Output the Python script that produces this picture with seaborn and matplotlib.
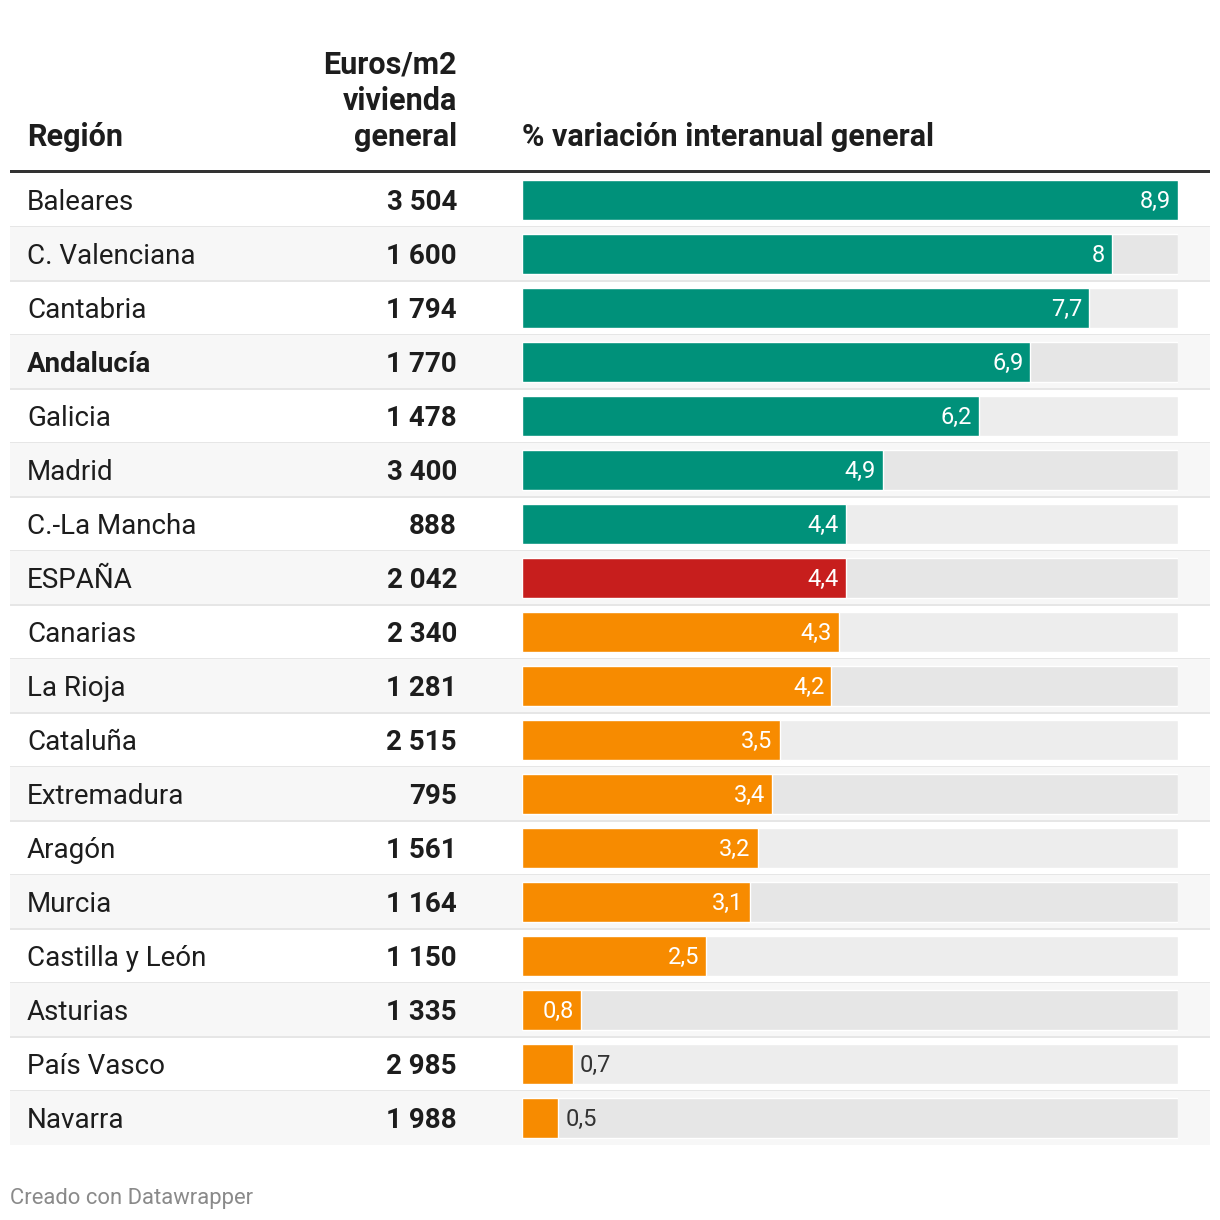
import matplotlib
matplotlib.use("Agg")
import matplotlib.pyplot as plt
import seaborn as sns
import pandas as pd
from matplotlib.patches import Rectangle

# datos de la tabla
regiones = ["Baleares", "C. Valenciana", "Cantabria", "Andalucía", "Galicia", "Madrid",
            "C.-La Mancha", "ESPAÑA", "Canarias", "La Rioja", "Cataluña", "Extremadura",
            "Aragón", "Murcia", "Castilla y León", "Asturias", "País Vasco", "Navarra"]
euros_m2 = [3504, 1600, 1794, 1770, 1478, 3400, 888, 2042, 2340, 1281, 2515, 795,
            1561, 1164, 1150, 1335, 2985, 1988]
variacion = [8.9, 8, 7.7, 6.9, 6.2, 4.9, 4.4, 4.4, 4.3, 4.2, 3.5, 3.4, 3.2, 3.1, 2.5,
             0.8, 0.7, 0.5]
destacada = "Andalucía"
total = "ESPAÑA"

col_region = "Región"
col_precio = ["Euros/m2", "vivienda", "general"]
col_var = "% variación interanual general"
fuente = "Creado con Datawrapper"

sns.set_theme(style="white")
plt.rcParams['font.family'] = ['Roboto', 'DejaVu Sans']

VERDE, ROJO, NARANJA = "#00917a", "#c71e1d", "#f78b00"
TXT = "#1d1d1d"

W = H = 1220
n = len(regiones)
row_top, row_h = 173, 54
bar_x0, bar_w = 521.5, 656.5

fig = plt.figure(figsize=(12.2, 12.2), dpi=100)
fig.patch.set_facecolor("white")

# capa de tabla en pixeles
bg = fig.add_axes([0, 0, 1, 1])
bg.set_xlim(0, W)
bg.set_ylim(H, 0)
bg.axis("off")

for i in range(n):
    y0 = row_top + i * row_h
    if i % 2 == 1:
        bg.add_patch(Rectangle((10, y0), 1200, row_h, color="#f7f7f7", lw=0))
    if i < n - 1:
        bg.add_patch(Rectangle((10, y0 + row_h - 1), 1200, 2, color="#e6e6e6", lw=0))
bg.add_patch(Rectangle((10, 170), 1200, 3, color="#333333", lw=0))

fs = 20
for i, (reg, eur) in enumerate(zip(regiones, euros_m2)):
    yb = row_top + i * row_h + row_h / 2 + 10
    bg.text(27, yb, reg, fontsize=fs, color=TXT, va="baseline", ha="left",
            fontweight="bold" if reg == destacada else "normal")
    bg.text(457, yb, f"{eur:,}".replace(",", " "), fontsize=fs, color=TXT,
            va="baseline", ha="right", fontweight="bold")

# cabecera
fh = 22
bg.text(27, 146, col_region, fontsize=fh, fontweight="bold", color=TXT, va="baseline")
for k, line in enumerate(col_precio):
    bg.text(457, 74 + 36 * k, line, fontsize=fh, fontweight="bold", color=TXT,
            va="baseline", ha="right")
bg.text(522, 146, col_var, fontsize=fh, fontweight="bold", color=TXT, va="baseline")
bg.text(10, 1204, fuente, fontsize=15.8, color="#8a8a8a", va="baseline")

# barras
ax = fig.add_axes([bar_x0 / W, (H - (row_top + n * row_h)) / H,
                   bar_w / W, n * row_h / H])
ax.set_facecolor("none")

idx_total = regiones.index(total)
colores = {r: (VERDE if i < idx_total else ROJO if i == idx_total else NARANJA)
           for i, r in enumerate(regiones)}
df = pd.DataFrame({"region": regiones, "variacion": variacion})
sns.barplot(data=df, x="variacion", y="region", hue="region", palette=colores,
            orient="h", width=40 / 54, saturation=1, legend=False, ax=ax)
vmax = max(variacion)
ax.barh(range(n), [vmax] * n, height=40 / 54, zorder=0.5,
        color=["#ededed" if i % 2 == 0 else "#e6e6e6" for i in range(n)])
ax.set_xlim(0, vmax)
ax.set_ylim(n - 0.5, -0.5)
ax.axis("off")

for i, v in enumerate(variacion):
    lab = f"{v:g}".replace(".", ",")
    if v >= 0.8:
        ax.annotate(lab, xy=(v, i), xytext=(-5, -0.8), textcoords="offset points",
                    ha="right", va="center", color="white", fontsize=17)
    else:
        ax.annotate(lab, xy=(v, i), xytext=(5, -0.8), textcoords="offset points",
                    ha="left", va="center", color="#333333", fontsize=17)

fig.savefig("out.png", dpi=100, facecolor="white")
